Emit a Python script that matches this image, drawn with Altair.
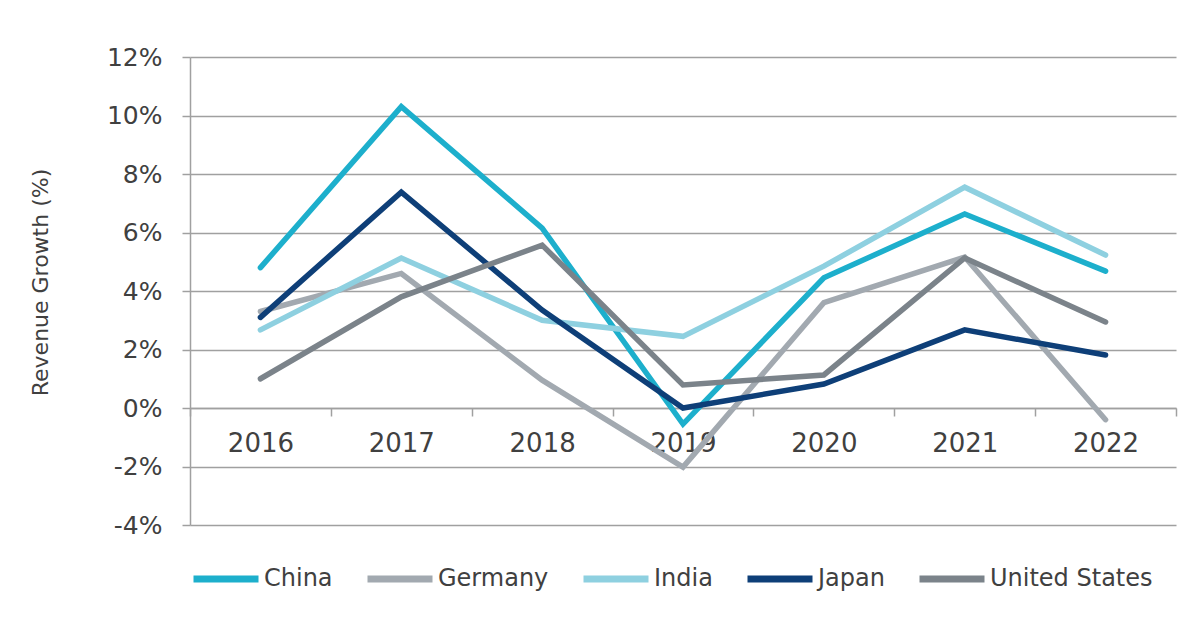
import altair as alt
import pandas as pd

years = [2016, 2017, 2018, 2019, 2020, 2021, 2022]
countries = ["China", "Germany", "India", "Japan", "United States"]
china = [4.8, 10.3, 6.15, -0.55, 4.45, 6.63, 4.68]
germany = [3.3, 4.6, 0.95, -2.02, 3.6, 5.16, -0.4]
india = [2.67, 5.13, 3.0, 2.45, 4.85, 7.55, 5.23]
japan = [3.1, 7.38, 3.35, 0.0, 0.82, 2.67, 1.81]
united_states = [1.0, 3.8, 5.57, 0.79, 1.13, 5.13, 2.94]
colors = ["#1DAFCC", "#A2A9B0", "#8ED0E0", "#0E3F78", "#7B838A"]
y_ticks = [-4, -2, 0, 2, 4, 6, 8, 10, 12]

series = [china, germany, india, japan, united_states]
rows = []
for name, vals in zip(countries, series):
    for yr, v in zip(years, vals):
        rows.append({"year": yr, "country": name, "value": v})
df = pd.DataFrame(rows)

FONT = "DejaVu Sans"
TXT = "#404040"
GRID = "#a0a0a0"

chart = (
    alt.Chart(df)
    .mark_line(strokeWidth=5.5, strokeCap="round")
    .encode(
        x=alt.X(
            "year:O",
            bandPosition=0.5,
            scale=alt.Scale(type="band", paddingInner=0, paddingOuter=0),
            axis=alt.Axis(
                title=None,
                labelAngle=0,
                tickBand="extent",
                tickSize=8,
                tickColor=GRID,
                tickWidth=1.5,
                domainColor=GRID,
                domainWidth=1.5,
                offset=-117,
                grid=False,
                labelFont=FONT,
                labelFontSize=26,
                labelColor=TXT,
                labelPadding=14,
            ),
        ),
        y=alt.Y(
            "value:Q",
            scale=alt.Scale(domain=[-4, 12], nice=False, zero=False),
            axis=alt.Axis(
                title="Revenue Growth (%)",
                values=y_ticks,
                labelExpr="datum.value + '%'",
                grid=True,
                gridColor=GRID,
                gridWidth=1.5,
                domainColor=GRID,
                domainWidth=1.5,
                tickColor=GRID,
                tickWidth=1.5,
                tickSize=8,
                labelFont=FONT,
                labelFontSize=25,
                labelColor=TXT,
                labelPadding=20,
                titleFont=FONT,
                titleFontSize=22,
                titleFontWeight="normal",
                titleColor=TXT,
                titleAngle=270,
                titleAlign="center",
                titleBaseline="middle",
                titleX=-150,
                titleY=225,
            ),
        ),
        color=alt.Color(
            "country:N",
            scale=alt.Scale(domain=countries, range=colors),
            legend=alt.Legend(
                title=None,
                orient="none",
                direction="horizontal",
                legendX=0,
                legendY=486,
                symbolType="stroke",
                symbolSize=4225,
                symbolStrokeWidth=7,
                labelFont=FONT,
                labelFontSize=24,
                labelColor=TXT,
                labelOffset=2,
                columnPadding=20,
                padding=0,
                labelLimit=400,
            ),
        ),
    )
    .properties(
        width=986,
        height=468,
        autosize=alt.AutoSizeParams(type="none"),
        padding={"left": 182, "top": 49, "right": 16, "bottom": 97},
        background="white",
    )
    .configure_view(strokeWidth=0)
)

chart.save("out.html", embed_options={"renderer": "svg", "actions": False})
